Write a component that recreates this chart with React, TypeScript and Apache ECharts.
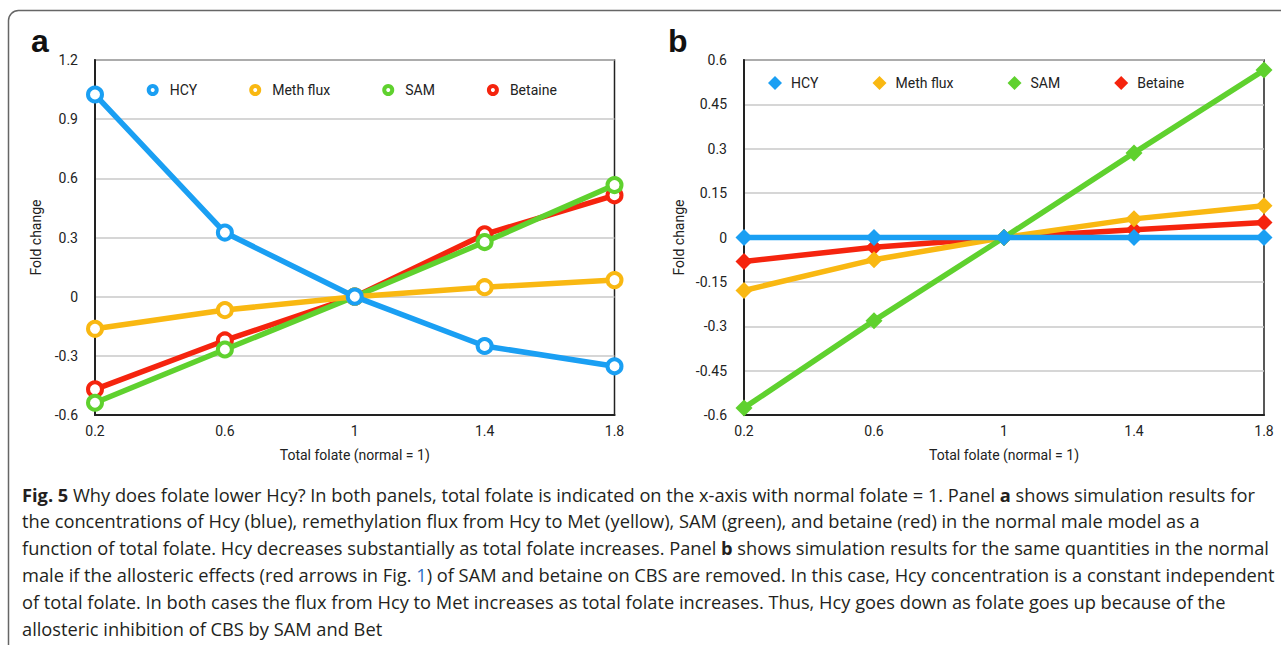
import React, { useEffect, useRef } from "react";
import * as echarts from "echarts";

const xCats = ["0.2", "0.6", "1", "1.4", "1.8"];
const seriesNames = ["HCY", "Meth flux", "SAM", "Betaine"];

// Panel a
const hcyA = [1.025, 0.325, 0, -0.25, -0.353];
const methA = [-0.163, -0.068, 0, 0.048, 0.084];
const samA = [-0.538, -0.268, 0, 0.277, 0.566];
const betA = [-0.47, -0.222, 0, 0.316, 0.514];

// Panel b
const hcyB = [0, 0, 0, 0, 0];
const methB = [-0.179, -0.075, 0, 0.063, 0.107];
const samB = [-0.576, -0.281, 0, 0.286, 0.566];
const betB = [-0.081, -0.033, 0, 0.026, 0.051];

const colors: Record<string, string> = {
  HCY: "#1a9ff3",
  "Meth flux": "#f9b812",
  SAM: "#5fd12e",
  Betaine: "#f5240e",
};

const captionLines = [
  "{b|Fig. 5} Why does folate lower Hcy? In both panels, total folate is indicated on the x-axis with normal folate = 1. Panel {b|a} shows simulation results for",
  "the concentrations of Hcy (blue), remethylation flux from Hcy to Met (yellow), SAM (green), and betaine (red) in the normal male model as a",
  "function of total folate. Hcy decreases substantially as total folate increases. Panel {b|b} shows simulation results for the same quantities in the normal",
  "male if the allosteric effects (red arrows in Fig. {l|1}) of SAM and betaine on CBS are removed. In this case, Hcy concentration is a constant independent",
  "of total folate. In both cases the flux from Hcy to Met increases as total folate increases. Thus, Hcy goes down as folate goes up because of the",
  "allosteric inhibition of CBS by SAM and Bet",
];

const FONT = "Roboto, Liberation Sans, Arial, sans-serif";
const LETTER_FONT = "Liberation Sans, Arial, Helvetica, sans-serif";
const CAP_FONT = "Open Sans, Noto Sans, sans-serif";
const CAP_SIZE = 18.25;

export default function App() {
  const ref = useRef<HTMLDivElement>(null);
  useEffect(() => {
    if (!ref.current) return;
    const chart = echarts.init(ref.current, undefined, { renderer: "svg" });

    const dataA: Record<string, number[]> = { HCY: hcyA, "Meth flux": methA, SAM: samA, Betaine: betA };
    const dataB: Record<string, number[]> = { HCY: hcyB, "Meth flux": methB, SAM: samB, Betaine: betB };
    const drawOrderA = ["Betaine", "SAM", "Meth flux", "HCY"];
    const drawOrderB = ["Betaine", "Meth flux", "SAM", "HCY"];

    const seriesA = drawOrderA.map((n, i) => ({
      type: "line",
      name: n,
      xAxisIndex: 0,
      yAxisIndex: 0,
      data: dataA[n],
      symbol: "circle",
      symbolSize: 14,
      clip: false,
      z: 2 + i,
      lineStyle: { color: colors[n], width: 5.5 },
      itemStyle: { color: "#fff", borderColor: colors[n], borderWidth: 4 },
      emphasis: { disabled: true },
    }));
    const seriesB = drawOrderB.map((n, i) => ({
      type: "line",
      name: n,
      xAxisIndex: 1,
      yAxisIndex: 1,
      data: dataB[n],
      symbol: "diamond",
      symbolSize: 17,
      clip: false,
      z: 2 + i,
      lineStyle: { color: colors[n], width: 5.5 },
      itemStyle: { color: colors[n] },
      emphasis: { disabled: true },
    }));

    const xAxisBase = (gi: number) => ({
      type: "category",
      gridIndex: gi,
      data: xCats,
      boundaryGap: false,
      axisLine: { show: true, onZero: false, lineStyle: { color: "#222", width: 2 } },
      axisTick: { show: false },
      axisLabel: { color: "#222", fontSize: 14, margin: 9, interval: 0, fontFamily: FONT },
      splitLine: { show: false },
      name: "Total folate (normal = 1)",
      nameLocation: "middle",
      nameGap: 33,
      nameTextStyle: { fontSize: 14, color: "#222", fontFamily: FONT },
    });

    const yAxisBase = (gi: number, min: number, max: number, interval: number, gap: number) => ({
      type: "value",
      gridIndex: gi,
      min,
      max,
      interval,
      axisLine: { show: true, onZero: false, lineStyle: { color: "#222", width: 2 } },
      axisTick: { show: false },
      axisLabel: { color: "#222", fontSize: 14, margin: 17, fontFamily: FONT },
      splitLine: { show: true, lineStyle: { color: "#c8c8c8", width: 1.5 } },
      name: "Fold change",
      nameLocation: "middle",
      nameGap: gap,
      nameRotate: 90,
      nameTextStyle: { fontSize: 14, color: "#222", fontFamily: FONT },
    });

    const legendA = {
      left: 141.7,
      top: 78,
      itemWidth: 8,
      itemHeight: 8,
      itemGap: 52,
      selectedMode: false,
      symbolKeepAspect: true,
      lineStyle: { width: 0, opacity: 0 },
      textStyle: { fontSize: 14, color: "#222", fontFamily: FONT, padding: [0, 0, 0, 8] },
      data: seriesNames.map((n) => ({
        name: n,
        icon: "circle",
        itemStyle: { color: "#fff", borderColor: colors[n], borderWidth: 4 },
      })),
    };
    const legendB = {
      left: 763,
      top: 71,
      itemWidth: 14,
      itemHeight: 14,
      itemGap: 54,
      selectedMode: false,
      symbolKeepAspect: true,
      lineStyle: { width: 0, opacity: 0 },
      textStyle: { fontSize: 14, color: "#222", fontFamily: FONT, padding: [0, 0, 0, 4] },
      data: seriesNames.map((n) => ({
        name: n,
        icon: "diamond",
        itemStyle: { color: colors[n], borderWidth: 0 },
      })),
    };

    const capRich = {
      b: { fontFamily: CAP_FONT, fontSize: CAP_SIZE, fontWeight: "bold", fill: "#231f20" },
      l: { fontFamily: CAP_FONT, fontSize: CAP_SIZE, fill: "#2f6fc6" },
    };

    const graphics: any[] = [
      {
        type: "rect",
        shape: { x: 8.5, y: 10.5, width: 1320, height: 720, r: 10 },
        style: { fill: "none", stroke: "#666", lineWidth: 1.5 },
        silent: true,
      },
      {
        type: "text",
        x: 31,
        y: 41,
        style: { text: "a", fontFamily: LETTER_FONT, fontSize: 32, fontWeight: "bold", fill: "#111", verticalAlign: "middle" },
      },
      {
        type: "text",
        x: 668,
        y: 41,
        style: { text: "b", fontFamily: LETTER_FONT, fontSize: 32, fontWeight: "bold", fill: "#111", verticalAlign: "middle" },
      },
      ...captionLines.map((t, i) => ({
        type: "text",
        x: 22,
        y: 494 + i * 26.8,
        style: {
          text: t,
          fontFamily: CAP_FONT,
          fontSize: CAP_SIZE,
          fill: "#231f20",
          verticalAlign: "middle",
          rich: capRich,
        },
      })),
    ];

    chart.setOption({
      animation: false,
      backgroundColor: "#fff",
      textStyle: { fontFamily: FONT },
      grid: [
        { left: 95, top: 60, width: 519.5, height: 355, show: true, borderColor: "#222", borderWidth: 1.5, backgroundColor: "transparent" },
        { left: 744, top: 60, width: 520, height: 355, show: true, borderColor: "#222", borderWidth: 1.5, backgroundColor: "transparent" },
      ],
      xAxis: [xAxisBase(0), xAxisBase(1)],
      yAxis: [yAxisBase(0, -0.6, 1.2, 0.3, 52), yAxisBase(1, -0.6, 0.6, 0.15, 58)],
      legend: [legendA, legendB],
      series: [...seriesA, ...seriesB],
      graphic: graphics,
    });

    return () => chart.dispose();
  }, []);

  return (
    <div
      ref={ref}
      style={{ position: "fixed", left: 0, top: 0, width: 1281, height: 645, background: "#fff" }}
    />
  );
}
